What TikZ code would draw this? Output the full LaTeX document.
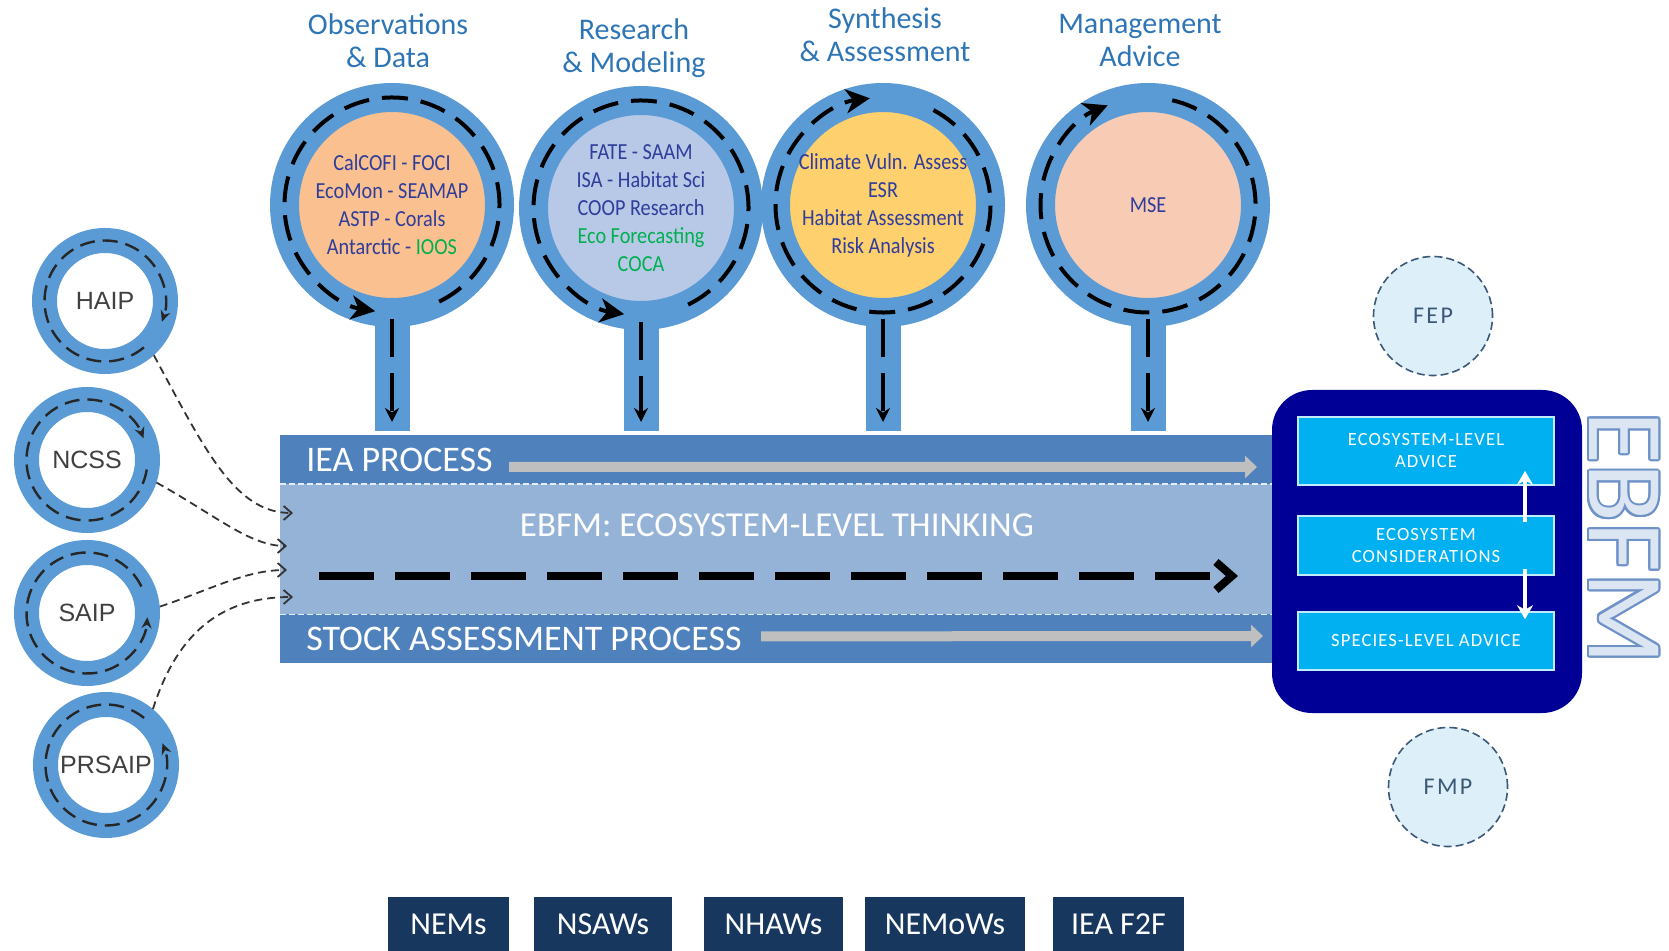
\documentclass[tikz,border=0pt]{standalone}
\usepackage{fontspec}
\setmainfont{Carlito}
\newfontfamily\condfont[FakeStretch=0.88]{Carlito}
\newfontfamily\ringfont{Liberation Sans}
\newfontfamily\spacedfont[LetterSpace=6]{Carlito}
\newfontfamily\widefont[LetterSpace=10]{Carlito}
\usepackage[copies]{contour}
\contourlength{1pt}
\usepackage{tikz}
\usetikzlibrary{arrows.meta}

\definecolor{ringblue}{RGB}{91,155,213}
\definecolor{titleblue}{RGB}{46,117,182}
\definecolor{circtext}{RGB}{47,61,155}
\definecolor{ecogreen}{RGB}{0,176,80}
\definecolor{obsfill}{RGB}{250,192,143}
\definecolor{resfill}{RGB}{183,201,230}
\definecolor{synfill}{RGB}{255,208,110}
\definecolor{manfill}{RGB}{248,203,180}
\definecolor{banddark}{RGB}{79,129,189}
\definecolor{bandlight}{RGB}{149,179,215}
\definecolor{arrowgray}{RGB}{191,191,191}
\definecolor{boxnavy}{RGB}{0,0,150}
\definecolor{advicecyan}{RGB}{0,176,240}
\definecolor{planfill}{RGB}{221,240,250}
\definecolor{planline}{RGB}{60,88,120}
\definecolor{meetnavy}{RGB}{23,55,94}
\definecolor{ebfmfill}{RGB}{220,230,242}
\definecolor{ebfmline}{RGB}{110,145,200}

\tikzset{
  bigring/.style={circle, draw=ringblue, line width=14.5pt, minimum size=107.5pt, inner sep=0pt, align=center, text=circtext, font=\condfont\fontsize{11.5}{14}\selectfont},
  smallring/.style={circle, draw=ringblue, fill=white, line width=12.5pt, minimum size=60.5pt, inner sep=0pt, text=black!75, font=\ringfont\fontsize{12.5}{14}\selectfont},
  ringdash/.style={line width=2pt, dash pattern=on 13pt off 6.5pt, -{Stealth[length=12pt, width=12pt, inset=3.5pt]}},
  smalldash/.style={black!85, line width=1.2pt, dash pattern=on 7.5pt off 4pt, -{Stealth[length=5.5pt, width=5pt]}},
  stemarrow/.style={line width=1.8pt, dash pattern=on 19pt off 8pt, -{Stealth[length=7pt, width=7pt]}},
  titletext/.style={text=titleblue, align=center, font=\fontsize{15}{16.5}\selectfont},
  band/.style={anchor=north west, minimum width=505pt, minimum height=24.5pt, inner sep=0pt},
  bandtext/.style={text=white, inner sep=0pt, font=\fontsize{18}{20}\selectfont},
  grayarrow/.style={arrowgray, line width=5pt, -{Triangle[length=6pt, width=11pt]}},
  flowarrow/.style={black, line width=4pt, dash pattern=on 27.5pt off 10.5pt, -{Straight Barb[length=8pt, width=14pt]}},
  feedin/.style={black!80, line width=0.9pt, dash pattern=on 4pt off 2.5pt, -{Straight Barb[length=4pt, width=7pt]}},
  advicebox/.style={fill=advicecyan, draw=white!75!advicecyan, line width=0.8pt, minimum width=128pt, inner sep=0pt, text=white, align=center, font=\spacedfont\fontsize{9.3}{11}\selectfont},
  advarrow/.style={white, line width=1.7pt, -{Stealth[length=7pt, width=8pt]}},
  plan/.style={circle, fill=planfill, draw=planline, dash pattern=on 4pt off 2pt, line width=0.8pt, minimum size=59.5pt, inner sep=0pt, text=planline, font=\widefont\fontsize{12}{14}\selectfont},
  meeting/.style={anchor=north, fill=meetnavy, text=white, minimum height=27pt, inner sep=0pt, font=\fontsize{16}{18}\selectfont}
}

\begin{document}
\begin{tikzpicture}[x=0.5pt, y=-0.5pt]
  \useasboundingbox (0,0) rectangle (1669,951);

  % the band
  \node[band, fill=banddark] (iea) at (280,435) {};
  \node[band, fill=bandlight, minimum height=65pt] (ebfm) at (280,484) {};
  \node[band, fill=banddark] (stock) at (280,614) {};
  \draw[white!75!bandlight, line width=0.6pt, dash pattern=on 3pt off 1.5pt] (ebfm.north west) -- (ebfm.north east);
  \draw[white!75!bandlight, line width=0.6pt, dash pattern=on 3pt off 1.5pt] (ebfm.south west) -- (ebfm.south east);

  \node[bandtext, anchor=west] (ieatext) at ([xshift=13pt]iea.west) {IEA PROCESS};
  \node[bandtext, anchor=west] (stocktext) at ([xshift=13pt]stock.west) {STOCK ASSESSMENT PROCESS};
  \node[bandtext, font=\fontsize{17.5}{20}\selectfont] (thinking) at (777,525) {EBFM: ECOSYSTEM-LEVEL THINKING};

  \coordinate (ieaend) at (1257,467);
  \coordinate (stockend) at (1263,636);
  \coordinate (flowstart) at (319,576);
  \coordinate (flowend) at (1238,576);
  \draw[grayarrow] ([xshift=8pt, yshift=-3.5pt]ieatext.east) -- (ieaend);
  \draw[grayarrow] ([xshift=9.5pt, yshift=1.25pt]stocktext.east) -- (stockend);
  \draw[flowarrow] (flowstart) -- (flowend);

  % top loops
  \node[titletext] (obstitle) at (388,41) {Observations\\\& Data};
  \node[titletext] (restitle) at (634,48) {Research\\\& Modeling};
  \node[titletext] (syntitle) at (885,35) {Synthesis\\\& Assessment};
  \node[titletext] (mantitle) at (1140,40) {Management\\Advice};

  \node[bigring, fill=obsfill] (obs) at (392,205) {CalCOFI - FOCI\\EcoMon - SEAMAP\\ASTP - Corals\\Antarctic - \textcolor{ecogreen}{IOOS}};
  \node[bigring, fill=resfill] (res) at (641,208) {FATE - SAAM\\ISA - Habitat Sci\\COOP Research\\\textcolor{ecogreen}{Eco Forecasting}\\\textcolor{ecogreen}{COCA}};
  \node[bigring, fill=synfill] (syn) at (883,205) {Climate Vuln. Assess\\ESR\\Habitat Assessment\\Risk Analysis};
  \node[bigring, fill=manfill] (man) at (1148,205) {MSE};

  \draw[ringdash] (obs.center) ++(-64:53.75pt) arc[start angle=-64, end angle=261, radius=53.75pt];
  \draw[ringdash] (res.center) ++(-64:53.75pt) arc[start angle=-64, end angle=261, radius=53.75pt];
  \draw[ringdash] (syn.center) ++(422:53.75pt) arc[start angle=422, end angle=97, radius=53.75pt];
  \draw[ringdash] (man.center) ++(437:53.75pt) arc[start angle=437, end angle=112, radius=53.75pt];

  \foreach \c in {obs,res,syn,man}{
    \coordinate (\c foot) at (\c.south |- iea.north);
    \fill[ringblue] ([xshift=-8.75pt, yshift=2.5pt]\c.south) rectangle ([xshift=8.75pt, yshift=2pt]\c foot);
    \draw[stemarrow] ([yshift=4pt]\c.south) -- ([yshift=6.5pt]\c foot);
  }

  % regional programs
  \node[smallring] (haip) at (105,301) {HAIP};
  \node[smallring] (ncss) at (87,460) {NCSS};
  \node[smallring] (saip) at (87,613) {SAIP};
  \node[smallring] (prsaip) at (106,765) {PRSAIP};

  \draw[smalldash] (haip.center) ++(310:30.25pt) arc[start angle=310, end angle=-20, radius=30.25pt];
  \draw[smalldash] (ncss.center) ++(351:30.25pt) arc[start angle=351, end angle=21, radius=30.25pt];
  \draw[smalldash] (saip.center) ++(-334:30.25pt) arc[start angle=-334, end angle=-4, radius=30.25pt];
  \draw[smalldash] (prsaip.center) ++(-309:30.25pt) arc[start angle=-309, end angle=21, radius=30.25pt];

  \coordinate (feedA) at (293,513);
  \coordinate (feedB) at (287,546);
  \coordinate (feedC) at (287,570);
  \coordinate (feedD) at (293,597);
  \draw[feedin] (haip.-48) .. controls (205,450) and (235,513) .. (feedA);
  \draw[feedin] (ncss.-18) .. controls (215,515) and (250,546) .. (feedB);
  \draw[feedin] (saip.5) .. controls (210,590) and (245,570) .. (feedC);
  \draw[feedin] (prsaip.50) .. controls (175,640) and (215,597) .. (feedD);

  % EBFM box
  \node[fill=boxnavy, rounded corners=20pt, minimum width=155pt, minimum height=161.5pt, inner sep=0pt] (ebfmbox) at (1427,551.5) {};
  \node[advicebox, minimum height=34pt] (ecoadv) at (1426,451) {ECOSYSTEM-LEVEL\\ADVICE};
  \node[advicebox, minimum height=29.5pt] (ecocons) at (1426,545.5) {ECOSYSTEM\\CONSIDERATIONS};
  \node[advicebox, minimum height=29pt] (specadv) at (1426,641) {SPECIES-LEVEL ADVICE};
  \draw[advarrow] ([xshift=49.5pt, yshift=-3.5pt]ecocons.north) -- ([xshift=49.5pt, yshift=7.5pt]ecoadv.south);
  \draw[advarrow] ([xshift=49.5pt, yshift=3.5pt]ecocons.south) -- ([xshift=49.5pt, yshift=-4pt]specadv.north);

  \node[rotate=-90, inner sep=0pt, font=\fontsize{54}{58}\selectfont] (ebfmword) at (1623,538) {\contour{ebfmline}{\textcolor{ebfmfill}{EBFM}}};

  \node[plan] (fep) at (1433,316) {FEP};
  \node[plan] (fmp) at (1448,787) {FMP};

  % meetings
  \node[meeting, minimum width=60.5pt] (nems) at (448.5,897) {NEMs};
  \node[meeting, minimum width=69pt] (nsaws) at (603,897) {NSAWs};
  \node[meeting, minimum width=69.5pt] (nhaws) at (773.5,897) {NHAWs};
  \node[meeting, minimum width=80pt] (nemows) at (945,897) {NEMoWs};
  \node[meeting, minimum width=65.5pt] (ieaftf) at (1118.5,897) {IEA F2F};
\end{tikzpicture}
\end{document}
